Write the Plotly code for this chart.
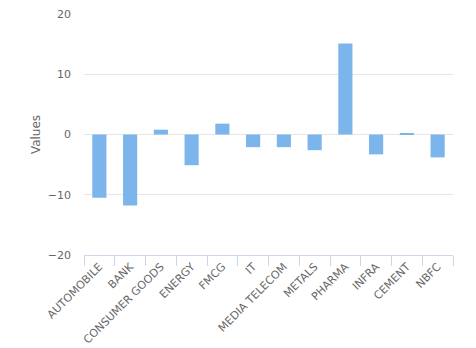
import plotly.graph_objects as go

categories = ["AUTOMOBILE", "BANK", "CONSUMER GOODS", "ENERGY", "FMCG", "IT",
              "MEDIA TELECOM", "METALS", "PHARMA", "INFRA", "CEMENT", "NBFC"]
values = [-10.5, -11.8, 0.8, -5.1, 1.8, -2.1, -2.1, -2.6, 15.1, -3.3, 0.2, -3.8]
y_ticks = [-20, -10, 0, 10, 20]

fig = go.Figure(go.Bar(x=categories, y=values, marker_color="#7cb5ec",
                       marker_line_width=0))
fig.update_layout(
    width=476, height=348,
    margin=dict(l=84, r=23, t=14, b=93),
    plot_bgcolor="white", paper_bgcolor="white",
    bargap=0.54, showlegend=False,
    font=dict(family="DejaVu Sans, sans-serif", size=11, color="#666666"),
)
fig.update_xaxes(
    type="category", tickangle=-45, showline=True, linecolor="#ccd6eb",
    ticks="outside", tickson="boundaries", ticklen=10, tickcolor="#ccd6eb",
    showgrid=False, tickfont=dict(size=11, color="#666666"), automargin=False,
)
fig.update_yaxes(
    range=[-20, 20], tickvals=y_ticks, showgrid=True, gridcolor="#e6e6e6",
    zeroline=True, zerolinecolor="#e6e6e6", zerolinewidth=1, showline=False,
    title=dict(text="Values", font=dict(size=12, color="#666666"), standoff=4),
    ticklabelstandoff=12, tickfont=dict(size=11, color="#666666"), automargin="left",
)
fig.write_html("out.html")
